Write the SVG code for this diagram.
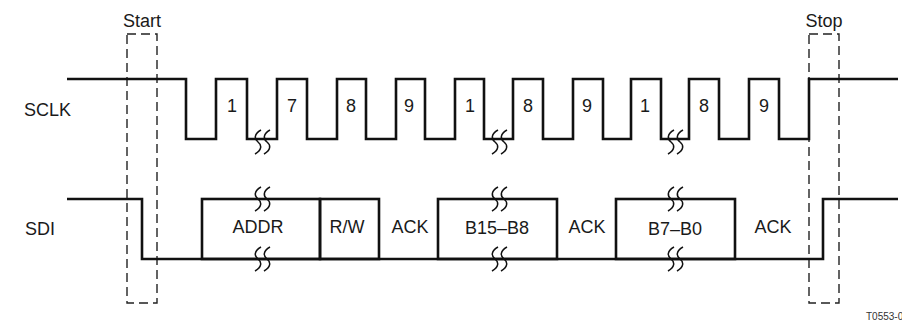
<svg xmlns="http://www.w3.org/2000/svg" width="902" height="322" viewBox="0 0 902 322">
<defs>
<style>
.sig{fill:none;stroke:#111;stroke-width:2.6;stroke-linejoin:miter;stroke-linecap:butt}
.box{fill:none;stroke:#111;stroke-width:2.6}
.dash{fill:none;stroke:#222;stroke-width:1.4;stroke-dasharray:9 5}
.brk{fill:none;stroke:#111;stroke-width:1.5}
text{font-family:"Liberation Sans",Arial,sans-serif;fill:#1a1a1a}
.lbl{font-size:18px}
.num{font-size:18px;text-anchor:middle}
.fld{font-size:18px;text-anchor:middle}
.ref{font-size:10px;fill:#333}
</style>
<path id="sq" d="M3,-12 C-4,-8 -4,-3 0,0 C4,3 4,8 -3,12"/>
</defs>

<g id="markers">
<g id="start-box">
<rect class="dash" x="127" y="34" width="30" height="269"/>
<text class="lbl" x="142" y="27" text-anchor="middle">Start</text>
</g>
<g id="stop-box">
<rect class="dash" x="809" y="34" width="30" height="269"/>
<text class="lbl" x="824" y="27" text-anchor="middle">Stop</text>
</g>
</g>

<g id="sclk">
<text class="lbl" x="24" y="116">SCLK</text>
<path class="sig" d="M67,79 H186 V139 H216 V79 H247 V139 H277 V79 H307 V139 H337 V79 H366 V139 H396 V79 H425 V139 H455 V79 H484 V139 H513 V79 H543 V139 H573 V79 H603 V139 H631 V79 H661 V139 H689 V79 H719 V139 H749 V79 H779 V139 H809 V79 H898"/>
<g class="num-labels">
<text class="num" x="232" y="112">1</text>
<text class="num" x="292" y="112">7</text>
<text class="num" x="351" y="112">8</text>
<text class="num" x="409" y="112">9</text>
<text class="num" x="470" y="112">1</text>
<text class="num" x="528" y="112">8</text>
<text class="num" x="587" y="112">9</text>
<text class="num" x="645" y="112">1</text>
<text class="num" x="704" y="112">8</text>
<text class="num" x="764" y="112">9</text>
</g>
<g class="breaks">
<use href="#sq" class="brk" x="258" y="142"/><use href="#sq" class="brk" x="267" y="142"/>
<use href="#sq" class="brk" x="495" y="142"/><use href="#sq" class="brk" x="504" y="142"/>
<use href="#sq" class="brk" x="671" y="142"/><use href="#sq" class="brk" x="680" y="142"/>
</g>
</g>

<g id="sdi">
<text class="lbl" x="25" y="235">SDI</text>
<path class="sig" d="M67,199 H142 V259 H823 V199 H898"/>
</g>

<g id="addr">
<rect class="box" x="202" y="199" width="118" height="60"/>
<text class="fld" x="258" y="233">ADDR</text>
<use href="#sq" class="brk" x="258" y="199"/><use href="#sq" class="brk" x="267" y="199"/>
<use href="#sq" class="brk" x="258" y="259"/><use href="#sq" class="brk" x="267" y="259"/>
</g>
<g id="rw">
<rect class="box" x="320" y="199" width="59" height="60"/>
<text class="fld" x="347" y="233">R/W</text>
</g>
<g id="ack1"><text class="fld" x="410" y="233">ACK</text></g>
<g id="b15b8">
<rect class="box" x="438" y="199" width="119" height="60"/>
<text class="fld" x="497" y="234">B15–B8</text>
<use href="#sq" class="brk" x="495" y="199"/><use href="#sq" class="brk" x="504" y="199"/>
<use href="#sq" class="brk" x="495" y="259"/><use href="#sq" class="brk" x="504" y="259"/>
</g>
<g id="ack2"><text class="fld" x="587" y="233">ACK</text></g>
<g id="b7b0">
<rect class="box" x="616" y="199" width="119" height="60"/>
<text class="fld" x="675" y="235">B7–B0</text>
<use href="#sq" class="brk" x="671" y="199"/><use href="#sq" class="brk" x="680" y="199"/>
<use href="#sq" class="brk" x="671" y="259"/><use href="#sq" class="brk" x="680" y="259"/>
</g>
<g id="ack3"><text class="fld" x="773" y="233">ACK</text></g>

<text class="ref" x="866" y="320">T0553-0</text>
</svg>
